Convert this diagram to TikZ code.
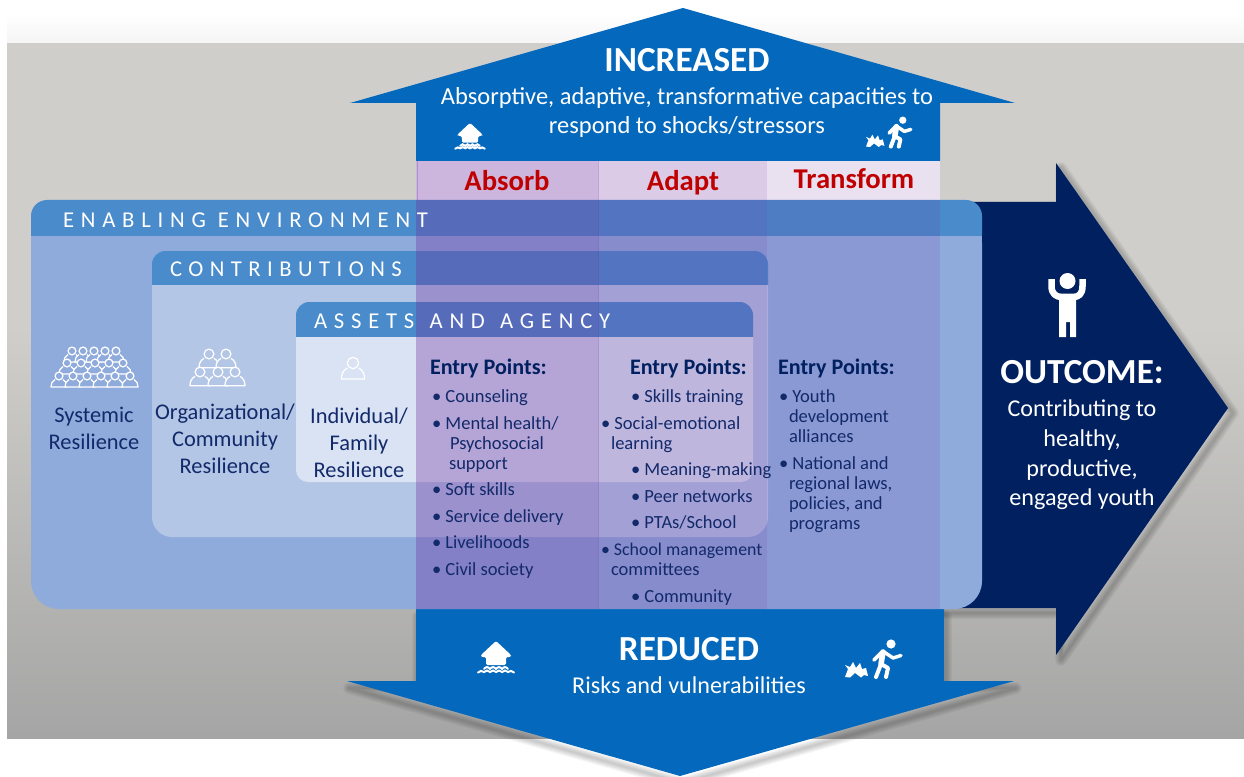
\documentclass[tikz,border=0pt]{standalone}
\usepackage{fontspec}
\setmainfont{Carlito}
\newfontfamily\spacedfont[LetterSpace=30]{Carlito}
\newfontfamily\spacedfontB[LetterSpace=28.5]{Carlito}
\definecolor{blueA}{HTML}{0468BC}
\definecolor{navy}{HTML}{002060}
\definecolor{purp}{HTML}{7030A0}
\definecolor{headB}{HTML}{4A8BCB}
\definecolor{envB}{HTML}{8FABDC}
\definecolor{conB}{HTML}{B3C6E6}
\definecolor{assB}{HTML}{DAE3F4}
\definecolor{redT}{HTML}{C00000}
\definecolor{inkT}{HTML}{12296A}
\definecolor{bgA}{HTML}{CFCECA}
\definecolor{bgB}{HTML}{A5A5A5}
\newcommand{\fsz}[1]{\fontsize{#1}{#1}\selectfont}
\tikzset{
  x=0.75pt,y=-0.75pt,
  txt/.style={inner sep=0pt,outer sep=0pt,font=\fsz{18.1},text=white,anchor=mid,yshift=-3.6pt},
  bigt/.style={txt,font=\fsz{26.4}\bfseries,yshift=-2.4pt},
  tabt/.style={txt,font=\fsz{21.5}\bfseries,text=redT,yshift=-1.2pt},
  headt/.style={txt,anchor=mid west,font=\fsz{17}\spacedfont},
  rest/.style={txt,text=inkT,font=\fsz{16.8},yshift=0pt},
  entryt/.style={txt,anchor=mid west,text=navy,font=\fsz{16.6}\bfseries,yshift=.4pt},
  lit/.style={txt,anchor=mid west,text=inkT,font=\fsz{13.9},yshift=1.2pt},
  pics/flood/.style={code={
    \fill[white,rounded corners=1pt] (0,-16) -- (15,-2) -- (15,0) -- (10,0) -- (10,8) -- (-10,8) -- (-10,0) -- (-15,0) -- (-15,-2) -- cycle;
    \draw[white,line width=1.5pt,line cap=round] (-12,12) .. controls (-10,9.5) and (-8,9.5) .. (-6,12) .. controls (-4,9.5) and (-2,9.5) .. (0,12) .. controls (2,9.5) and (4,9.5) .. (6,12) .. controls (8,9.5) and (10,9.5) .. (12,12);
    \draw[white,line width=1.5pt,line cap=round] (-18,15.5) .. controls (-16,13.5) and (-14,13.5) .. (-12,15) .. controls (-10,13) and (-8,13) .. (-6,15) .. controls (-4,13) and (-2,13) .. (0,15) .. controls (2,13) and (4,13) .. (6,15) .. controls (8,13) and (10,13) .. (12,15) .. controls (14,13.5) and (16,13.5) .. (18,15.5);
  }},
  pics/runner/.style={code={
    \fill[white] (16,-16) circle (4.6);
    \draw[white,line width=4.2pt,line join=round,line cap=round] (8,-8) -- (6,4);
    \draw[white,line width=2.8pt,line join=round,line cap=round] (7,-8) -- (-1,0);
    \draw[white,line width=2.6pt,line join=round,line cap=round] (9,-8) -- (18,-2) -- (26,-4.5);
    \draw[white,line width=3pt,line join=round,line cap=round] (6,4) -- (1,17);
    \draw[white,line width=3pt,line join=round,line cap=round] (6,4) -- (13,8) -- (11,17);
    \fill[white,line join=round] (-30,17) -- (-27,9) -- (-30,5) -- (-25,7) -- (-22,2) -- (-19,8) -- (-15,3) -- (-13,9) -- (-9,8) -- (-7,16) -- (-11,15) -- (-14,17.5) -- (-20,13) -- (-25,17.5) -- cycle;
  }},
  pics/person/.style={code={
    \draw[white,line width=.95pt,fill=#1,line join=round] (-4,3.5) .. controls (-7,5) and (-8,8) .. (-8,11) -- (8,11) .. controls (8,8) and (7,5) .. (4,3.5);
    \draw[white,line width=.95pt,fill=#1] (0,0) circle (3.9);
  }},
}
\newcommand{\outshape}{(900,202) -- (1056,202) -- (1056,163) -- (1228,408) -- (1056,655) -- (1056,608) -- (900,608) -- cycle}
\newcommand{\lowshape}{(416,609) -- (944,609) -- (944,681) -- (1014,681) -- (680,776) -- (347,681) -- (416,681) -- cycle}
\begin{document}
\begin{tikzpicture}
\useasboundingbox (0,0) rectangle (1244,777);
% backdrop
\fill[white] (0,0) rectangle (1244,777);
\fill[top color=white,bottom color=white!96!black] (7,14) rectangle (1244,43);
\fill[bgA] (7,43) rectangle (1244,330);
\fill[top color=bgA,bottom color=bgB] (7,329) rectangle (1244,738);
% shadows
\begin{scope}[shift={(2,7)}]
\foreach \w in {2,4,...,12}{
  \draw[black,opacity=.035,line width=\w*0.75pt,line join=round] \lowshape;
}
\end{scope}
\begin{scope}[shift={(5,5)}]
\foreach \w in {2,4,...,12}{
  \draw[black,opacity=.035,line width=\w*0.75pt,line join=round] \outshape;
}
\end{scope}
% arrows
\fill[navy] \outshape;
\fill[blueA] \lowshape;
\fill[blueA] (683,8) -- (1015,103) -- (940,103) -- (940,161) -- (416,161) -- (416,103) -- (350,103) -- cycle;
% tab ground
\fill[white] (416,161) rectangle (940,200);
% nested panels
\fill[envB,rounded corners=21pt] (31,215) rectangle (982,609);
\fill[headB,rounded corners=12pt] (31,200) rectangle (982,250);
\fill[envB] (31,236) rectangle (982,260);
\fill[conB,rounded corners=15pt] (152,265) rectangle (768,537);
\fill[headB,rounded corners=10pt] (152,251) rectangle (768,300);
\fill[conB] (152,285) rectangle (768,305);
\fill[assB,rounded corners=9pt] (296,315) rectangle (753,482);
\fill[headB,rounded corners=10pt] (296,302) rectangle (753,350);
\fill[assB] (296,337) rectangle (753,355);
% capacity columns
\fill[purp,fill opacity=.35] (416,161) rectangle (598,609);
\fill[purp,fill opacity=.25] (598,161) rectangle (767,609);
\fill[purp,fill opacity=.15] (767,161) rectangle (940,609);
\draw[purp,opacity=.25,line width=.6pt] (598,161) -- (598,609);
\draw[purp,opacity=.3,line width=.6pt] (417,161) -- (417,200);
% arrow texts
\node[bigt] (inc) at (687,60) {INCREASED};
\node[txt,font=\fsz{18.35}] (inc1) at (687,97) {Absorptive, adaptive, transformative capacities to};
\node[txt,font=\fsz{18.35}] (inc2) at (687,126) {respond to shocks/stressors};
\node[bigt] (red) at (689,649) {REDUCED};
\node[txt] (red1) at (689,686) {Risks and vulnerabilities};
\node[tabt] (t1) at (507,181) {Absorb};
\node[tabt] (t2) at (683,181) {Adapt};
\node[tabt] (t3) at (854,179) {Transform};
% headers
\node[headt] (h1) at (63,220) {ENABLING ENVIRONMENT};
\node[headt,font=\fsz{17}\spacedfontB] (h2) at (170,269) {CONTRIBUTIONS};
\node[headt] (h3) at (314,321) {ASSETS\hspace{2.5pt} AND\hspace{2.5pt} AGENCY};
% resilience labels
\node[rest] (r1a) at (94,415) {Systemic};
\node[rest] (r1b) at (94,442) {Resilience};
\node[rest] (r2a) at (225,412) {Organizational/};
\node[rest] (r2b) at (225,439) {Community};
\node[rest] (r2c) at (225,466) {Resilience};
\node[rest] (r3a) at (359,416) {Individual/};
\node[rest] (r3b) at (359,443) {Family};
\node[rest] (r3c) at (359,470) {Resilience};
% entry points
\node[entryt] (e1) at (430,367) {Entry Points:};
\node[entryt] (e2) at (630,367) {Entry Points:};
\node[entryt] (e3) at (778,367) {Entry Points:};
\node[lit] (a1) at (432,396) {• Counseling};
\node[lit] (a2) at (432,423) {• Mental health/};
\node[lit] (a3) at (450,443) {Psychosocial};
\node[lit] (a4) at (449,463) {support};
\node[lit] (a5) at (432,489) {• Soft skills};
\node[lit] (a6) at (432,516) {• Service delivery};
\node[lit] (a7) at (432,542) {• Livelihoods};
\node[lit] (a8) at (432,569) {• Civil society};
\node[lit] (b1) at (631,396) {• Skills training};
\node[lit] (b2) at (601,423) {• Social-emotional};
\node[lit] (b3) at (611,443) {learning};
\node[lit] (b4) at (631,469) {• Meaning-making};
\node[lit] (b5) at (631,496) {• Peer networks};
\node[lit] (b6) at (631,522) {• PTAs/School};
\node[lit,font=\fsz{13.4}] (b7) at (601,549) {• School management};
\node[lit] (b8) at (611,569) {committees};
\node[lit] (b9) at (631,596) {• Community};
\node[lit] (c1) at (779,396) {• Youth};
\node[lit] (c2) at (789,416) {development};
\node[lit] (c3) at (789,436) {alliances};
\node[lit] (c4) at (779,463) {• National and};
\node[lit] (c5) at (789,483) {regional laws,};
\node[lit] (c6) at (789,503) {policies, and};
\node[lit] (c7) at (789,523) {programs};
% outcome
\node[bigt] (o0) at (1082,372) {OUTCOME:};
\node[txt] (o1) at (1082,409) {Contributing to};
\node[txt] (o2) at (1082,439) {healthy,};
\node[txt] (o3) at (1082,469) {productive,};
\node[txt] (o4) at (1082,498) {engaged youth};
% outcome figure
\fill[white] (1067.5,281) circle (8);
\draw[white,line width=4.9pt,line join=round] (1051.5,279) -- (1051.5,286) .. controls (1051.5,294) and (1056,297) .. (1062,297) -- (1073,297) .. controls (1079,297) and (1082.5,294) .. (1082.5,286) -- (1082.5,279);
\fill[white] (1059,296) -- (1076,296) -- (1076,337) -- (1070,337) -- (1070,322) -- (1066,322) -- (1066,337) -- (1059,337) -- cycle;
% hazard icons
\pic[scale=.82] at (470,136) {flood};
\pic at (496,657) {flood};
\pic[scale=.8] at (890,133) {runner};
\pic at (875,660) {runner};
% people icons
\foreach \px in {72,83,94,105,116}{\pic at (\px,351) {person=envB};}
\foreach \px in {67,81,95,109,123}{\pic at (\px,363) {person=envB};}
\foreach \px in {59,73,87,101,115,130}{\pic at (\px,376) {person=envB};}
\foreach \px in {209,226}{\pic[scale=1.25] at (\px,354) {person=conB};}
\foreach \px in {200,218,235}{\pic[scale=1.25] at (\px,372) {person=conB};}
\pic[scale=1.45] at (353,363) {person=assB};
\end{tikzpicture}
\end{document}
